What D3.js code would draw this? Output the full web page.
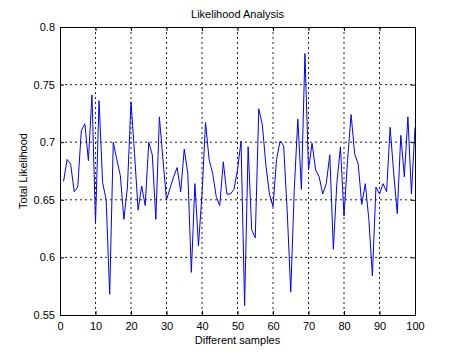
<!DOCTYPE html>
<html>
<head>
<meta charset="utf-8">
<script src="https://cdn.jsdelivr.net/npm/d3@7"></script>
<style>
  body { margin: 0; background: #fff; }
  text { font-family: "Liberation Sans", Arial, sans-serif; }
</style>
</head>
<body>
<div id="chart"></div>
<script>
// samples 1..100, total likelihood
var samples = d3.range(1, 101);
var likelihood = [
  0.666, 0.685, 0.681, 0.657, 0.661, 0.710, 0.716, 0.684, 0.741, 0.630,
  0.736, 0.665, 0.650, 0.568, 0.700, 0.685, 0.671, 0.633, 0.661, 0.735,
  0.690, 0.641, 0.662, 0.645, 0.700, 0.689, 0.633, 0.722, 0.685, 0.650,
  0.660, 0.670, 0.678, 0.657, 0.694, 0.673, 0.587, 0.664, 0.610, 0.655,
  0.717, 0.685, 0.673, 0.653, 0.645, 0.683, 0.655, 0.655, 0.659, 0.676,
  0.701, 0.558, 0.696, 0.624, 0.617, 0.729, 0.715, 0.680, 0.655, 0.644,
  0.685, 0.701, 0.697, 0.640, 0.570, 0.660, 0.720, 0.659, 0.777, 0.676,
  0.699, 0.676, 0.670, 0.655, 0.664, 0.689, 0.607, 0.665, 0.696, 0.636,
  0.684, 0.724, 0.690, 0.681, 0.646, 0.664, 0.633, 0.584, 0.661, 0.655,
  0.664, 0.657, 0.713, 0.673, 0.638, 0.706, 0.670, 0.722, 0.655, 0.713
];
var xTicks = [0, 10, 20, 30, 40, 50, 60, 70, 80, 90, 100];
var yTicks = [0.55, 0.6, 0.65, 0.7, 0.75, 0.8];

var margin = { top: 27, right: 43, bottom: 39, left: 60 },
    width = 458 - margin.left - margin.right,
    height = 354 - margin.top - margin.bottom;

var x = d3.scaleLinear().domain([0, 100]).range([0, width]);
var y = d3.scaleLinear().domain([0.55, 0.8]).range([height, 0]);

var svg = d3.select('#chart').append('svg')
    .attr('width', 458)
    .attr('height', 354);

var g = svg.append('g')
    .attr('transform', 'translate(' + margin.left + ',' + margin.top + ')');

// grid
g.append('g').selectAll('line').data(xTicks.slice(1, -1)).enter().append('line')
    .attr('x1', function (d) { return x(d); }).attr('x2', function (d) { return x(d); })
    .attr('y1', 0).attr('y2', height)
    .attr('stroke', '#222').attr('stroke-width', 1).attr('stroke-dasharray', '2,3');
g.append('g').selectAll('line').data(yTicks.slice(1, -1)).enter().append('line')
    .attr('y1', function (d) { return y(d); }).attr('y2', function (d) { return y(d); })
    .attr('x1', 0).attr('x2', width)
    .attr('stroke', '#222').attr('stroke-width', 1).attr('stroke-dasharray', '2,3');

// line
var line = d3.line()
    .x(function (d, i) { return x(samples[i]); })
    .y(function (d) { return y(d); });

g.append('path')
    .datum(likelihood)
    .attr('fill', 'none')
    .attr('stroke', '#0000ff')
    .attr('stroke-width', 1)
    .attr('d', line);

// axes, ticks inward like matlab
var fmtY = function (d) { return d === 0.8 ? '0.8' : d3.format('.2f')(d).replace(/0$/, ''); };
var xAxis = d3.axisBottom(x).tickValues(xTicks).tickSizeInner(-4).tickSizeOuter(0).tickPadding(7);
var xAxisTop = d3.axisTop(x).tickValues(xTicks).tickSizeInner(-4).tickSizeOuter(0).tickFormat('');
var yAxis = d3.axisLeft(y).tickValues(yTicks).tickSizeInner(-4).tickSizeOuter(0).tickPadding(5).tickFormat(fmtY);
var yAxisRight = d3.axisRight(y).tickValues(yTicks).tickSizeInner(-4).tickSizeOuter(0).tickFormat('');

g.append('g').attr('transform', 'translate(0,' + height + ')').call(xAxis);
g.append('g').call(xAxisTop);
g.append('g').call(yAxis);
g.append('g').attr('transform', 'translate(' + width + ',0)').call(yAxisRight);

g.selectAll('.domain').attr('stroke', '#000');
g.selectAll('.tick line').attr('stroke', '#000');
g.selectAll('.tick text').attr('font-size', 11).attr('fill', '#000')
    .style('font-family', '"Liberation Sans", Arial, sans-serif');

// titles
svg.append('text')
    .attr('x', margin.left + width / 2).attr('y', 18)
    .attr('text-anchor', 'middle').attr('font-size', 11)
    .text('Likelihood Analysis');

svg.append('text')
    .attr('x', margin.left + width / 2).attr('y', 344)
    .attr('text-anchor', 'middle').attr('font-size', 11)
    .text('Different samples');

svg.append('text')
    .attr('transform', 'translate(27,' + (margin.top + height / 2) + ') rotate(-90)')
    .attr('text-anchor', 'middle').attr('font-size', 11)
    .text('Total Likelihood');
</script>
</body>
</html>
